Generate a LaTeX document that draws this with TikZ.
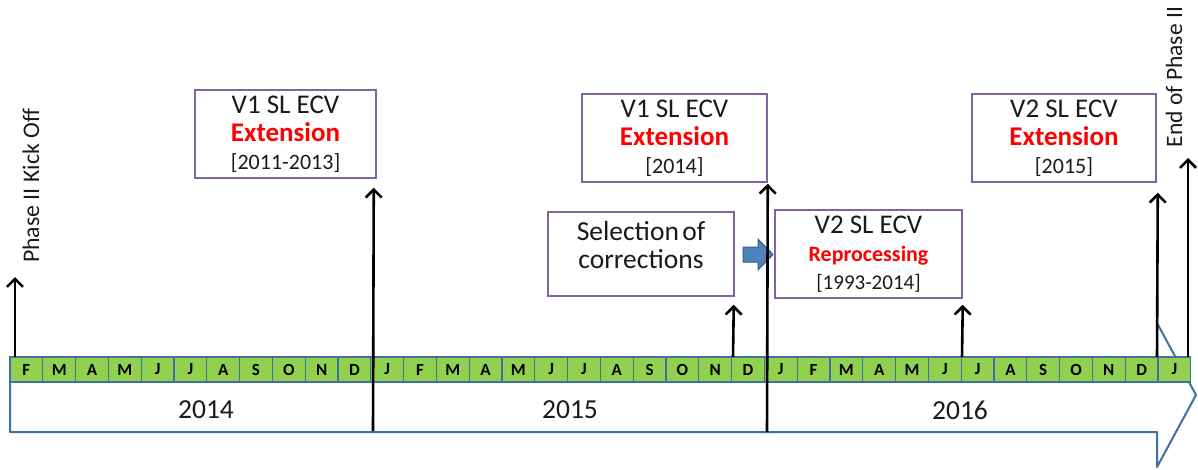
\documentclass[tikz,border=0pt]{standalone}
\usepackage{fontspec}
\setmainfont{Carlito}
\usetikzlibrary{arrows.meta,calc}
\definecolor{boxpurple}{HTML}{8064A2}
\definecolor{cellgreen}{HTML}{92D050}
\definecolor{cellblue}{HTML}{41719C}
\definecolor{arrowblue}{HTML}{4F81BD}
\definecolor{arrowedge}{HTML}{385D8A}
\definecolor{txtdark}{HTML}{1A1A1A}
\begin{document}
\begin{tikzpicture}[x=1pt,y=-1pt,
  ecvbox/.style={draw=boxpurple, line width=1.5pt, fill=white, inner sep=0pt, align=center, text=txtdark,
    font=\fontsize{27}{28}\selectfont},
  month/.style={draw=cellblue, line width=1.3pt, fill=cellgreen, minimum width=32.8pt, minimum height=25pt,
    inner sep=0pt, font=\fontsize{17}{17}\selectfont\bfseries},
  milestone/.style={line width=2.6pt, -{Straight Barb[length=8pt,width=16pt]}},
  yearlbl/.style={font=\fontsize{27.5}{27.5}\selectfont, text=txtdark},
  sidelbl/.style={rotate=90, text=txtdark, inner sep=0pt}]
\useasboundingbox (0,0) rectangle (1198,470);
% big timeline arrow
\draw[draw=cellblue, line width=2pt, fill=white, line join=round]
  (10,357) -- (1157,357) -- (1157,323) -- (1196,395) -- (1157,467) -- (1157,432) -- (10,432) -- cycle;
% month cells
\foreach \m [count=\i from 0] in {F,M,A,M,J,J,A,S,O,N,D,J,F,M,A,M,J,J,A,S,O,N,D,J,F,M,A,M,J,J,A,S,O,N,D,J}{
  \node[month] (c\i) at ({10+16.4+32.8*\i},369.5) {\m};
}
% years
\node[yearlbl] (y2014) at (206,410) {2014};
\node[yearlbl] (y2015) at (570,410) {2015};
\node[yearlbl] (y2016) at (960,410) {2016};
% boxes
\node[ecvbox, minimum width=181pt, minimum height=88pt] (ext1) at (285.5,134)
  {V1 SL ECV\\{\color{red}\bfseries\fontsize{27}{28}\selectfont Extension}\\{\fontsize{22}{26}\selectfont [2011-2013]}};
\node[ecvbox, minimum width=185pt, minimum height=88pt] (ext2) at (674.5,138)
  {V1 SL ECV\\{\color{red}\bfseries\fontsize{27}{28}\selectfont Extension}\\{\fontsize{22}{26}\selectfont [2014]}};
\node[ecvbox, minimum width=184pt, minimum height=88pt] (ext3) at (1064,138)
  {V2 SL ECV\\{\color{red}\bfseries\fontsize{27}{28}\selectfont Extension}\\{\fontsize{22}{26}\selectfont [2015]}};
\node[ecvbox, minimum width=187pt, minimum height=88pt] (rep) at (868.5,254)
  {V2 SL ECV\\{\color{red}\bfseries\fontsize{22}{25}\selectfont Reprocessing}\\{\fontsize{21}{24}\selectfont [1993-2014]}};
\node[ecvbox, minimum width=186pt, minimum height=84pt] (sel) at (641,254) {};
\node[align=center, text=txtdark, font=\fontsize{27.5}{28}\selectfont, inner sep=0pt] (seltxt)
  at ($(sel.center)+(0,-9)$) {Selection\hspace{0.12em}of\\corrections};
% side labels
\node[sidelbl, font=\fontsize{23.8}{24}\selectfont] (kick) at (31,186) {Phase II Kick Off};
\node[sidelbl, font=\fontsize{23.5}{24}\selectfont] (endp) at (1174,77) {End of Phase II};
% blue flow arrow between selection and reprocessing
\filldraw[fill=arrowblue, draw=arrowedge, line width=1pt]
  (743,247) -- (758,247) -- (758,239) -- (773,254.5) -- (758,270) -- (758,262) -- (743,262) -- cycle;
% milestone arrows
\coordinate (b0) at (15,357);
\coordinate (b1) at (373,431);
\coordinate (b2) at (767,432);
\coordinate (b3) at (733,357);
\coordinate (b4) at (962,357);
\coordinate (b5) at (1157,357);
\coordinate (b6) at (1188,357);
\draw[milestone] (b0) -- (15,277);
\draw[milestone] (b1) -- ($(ext1.south east)+(-3,9)$);
\draw[milestone] (b2) -- ($(ext2.south east)+(0,1)$);
\draw[milestone] (b3) -- ($(sel.south east)+(-1,8)$);
\draw[milestone] (b4) -- ($(rep.south east)+(0,6)$);
\draw[milestone] (b5) -- ($(ext3.south east)+(1,10)$);
\draw[milestone] (b6) -- (1188,158);
\end{tikzpicture}
\end{document}
